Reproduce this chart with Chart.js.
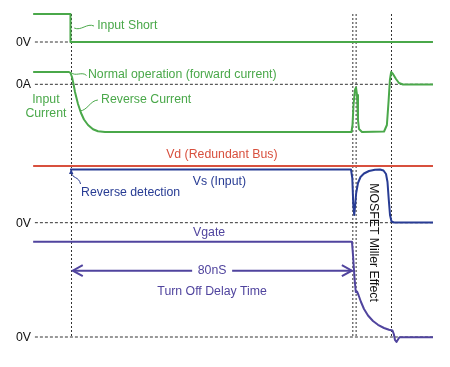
<!DOCTYPE html>
<html>
<head>
<meta charset="utf-8">
<title>Reverse current turn-off timing</title>
<script src="https://cdn.jsdelivr.net/npm/chart.js@4.4.0/dist/chart.umd.min.js"></script>
<style>
  html, body { margin: 0; padding: 0; background: #fff; }
</style>
</head>
<body>
<canvas id="timing-chart" width="450" height="367"></canvas>
<script>
// ================= DATA =================
// time in ns (0 = input short), level in diagram units (0 = top, grows downward)
const inputShortT = [-10.7, -0.15, -0.15, 102.3];
const inputShortY = [14, 14, 42, 42];

const inputCurrentT = [-10.7, -0.57, -0.14, 0.28, 0.71, 1.13, 1.98, 2.83, 3.67, 4.81, 6.22, 7.63, 9.61,
  79.29, 79.58, 79.86, 80.28, 80.57, 80.85, 81.13, 81.41, 82.26,
  88.5, 89.3, 89.8, 90.15, 90.5, 91.03, 91.87, 92.72, 93.85, 102.33];
const inputCurrentY = [72, 72, 73, 77, 84, 92, 104, 113, 119.5, 125, 129.3, 131.3, 132,
  132, 125, 105, 90, 87.5, 95, 120, 129, 132,
  131.5, 125, 100, 80, 72, 74, 79, 83, 84.5, 84.5];

const vdT = [-10.7, 102.33];
const vdY = [166, 166];

const vsT = [-0.28, 79.15, 79.52, 79.8, 80.06, 80.34, 80.62, 81.13, 81.84, 82.83, 84.24, 85.94, 87.35,
  88.34, 89.05, 89.47, 89.84, 90.18, 90.6, 91.31, 102.33];
const vsY = [169.5, 169.5, 178, 205, 215, 205, 193, 183, 177, 173.5, 171, 169.8, 169.5,
  170.5, 174, 182, 200, 215, 221.5, 222.5, 222.5];

const vgateT = [-10.7, 79.43, 79.72, 80.14, 80.51, 80.85, 81.27, 81.98, 82.83, 83.96, 85.37, 86.78,
  88.48, 89.89, 90.88, 91.25, 91.59, 92.01, 92.44, 92.86, 102.33];
const vgateY = [241.7, 241.7, 255, 278, 292, 291.5, 295, 302, 309, 315.5, 321, 324.8,
  328, 329.8, 330.5, 334, 340, 342, 339.5, 337.3, 337.3];

// zero reference levels (0V, 0A, 0V, 0V) and time markers
const zeroLevels = [42, 84.3, 222.7, 337];
const zeroNames = ["0V", "0A", "0V", "0V"];
const zeroSpan = [-10.2, 102.33];
const markerTimes = [0.14, 79.67, 80.6, 90.6];
const markerSpan = [14, 337];
const turnOffDelay = [0.5, 79.4]; // 80nS arrow

// ================= COLORS =================
const GREEN = "#4aa84a";
const RED = "#d8503e";
const NAVY = "#283c94";
const PURPLE = "#50449e";
const DOT = "#333";

const pts = (ts, ys) => ts.map((t, i) => ({ x: t, y: ys[i] }));

function wave(label, ts, ys, color) {
  return {
    label: label,
    data: pts(ts, ys),
    borderColor: color,
    borderWidth: 2,
    pointRadius: 0,
    borderJoinStyle: "round",
    order: 1
  };
}

function dotted(data, dash) {
  return {
    label: "ref",
    data: data,
    borderColor: DOT,
    borderWidth: 1,
    borderDash: dash,
    pointRadius: 0,
    order: 5
  };
}

const datasets = [
  wave("Input Short", inputShortT, inputShortY, GREEN),
  wave("Input Current", inputCurrentT, inputCurrentY, GREEN),
  wave("Vd", vdT, vdY, RED),
  wave("Vs", vsT, vsY, NAVY),
  wave("Vgate", vgateT, vgateY, PURPLE)
];
zeroLevels.forEach(lv => datasets.push(dotted(pts(zeroSpan, [lv, lv]), [3, 2])));
markerTimes.forEach(t => datasets.push(dotted(pts([t, t], markerSpan), [2, 2])));

// ================= LABELS =================
const labels = [
  { text: "Input Short", t: 7.4, y: 26, color: GREEN },
  { text: "Normal operation (forward current)", t: 4.8, y: 75, color: GREEN },
  { text: "Input", t: -7.1, y: 99.5, color: GREEN, align: "center" },
  { text: "Current", t: -7.1, y: 114, color: GREEN, align: "center" },
  { text: "Reverse Current", t: 8.5, y: 99.5, color: GREEN },
  { text: "Vd (Redundant Bus)", t: 26.9, y: 155, color: RED },
  { text: "Vs (Input)", t: 34.4, y: 181.5, color: NAVY },
  { text: "Reverse detection", t: 2.85, y: 193, color: NAVY },
  { text: "Vgate", t: 34.5, y: 233, color: PURPLE },
  { text: "80nS", t: 39.9, y: 271, color: PURPLE, align: "center" },
  { text: "Turn Off Delay Time", t: 39.9, y: 291.5, color: PURPLE, align: "center" }
];

function tilde(ctx, x0, y0, x1, y1, amp) {
  const dx = x1 - x0, dy = y1 - y0;
  const len = Math.hypot(dx, dy);
  const nx = -dy / len * amp, ny = dx / len * amp;
  ctx.beginPath();
  ctx.moveTo(x0, y0);
  ctx.bezierCurveTo(x0 + dx / 3 + nx, y0 + dy / 3 + ny, x0 + 2 * dx / 3 - nx, y0 + 2 * dy / 3 - ny, x1, y1);
  ctx.stroke();
}

function chevron(ctx, x, y, dir) {
  ctx.beginPath();
  ctx.moveTo(x - dir * 10, y - 5.5);
  ctx.lineTo(x, y);
  ctx.lineTo(x - dir * 10, y + 5.5);
  ctx.stroke();
}

const annotationPlugin = {
  id: "annotations",
  afterDatasetsDraw(chart) {
    const { ctx, scales: { x, y } } = chart;
    const X = v => x.getPixelForValue(v);
    const Y = v => y.getPixelForValue(v);
    ctx.save();
    ctx.font = "12.3px 'Liberation Sans', Arial, sans-serif";
    ctx.textBaseline = "middle";

    labels.forEach(l => {
      ctx.fillStyle = l.color;
      ctx.textAlign = l.align || "left";
      ctx.fillText(l.text, X(l.t), Y(l.y));
    });

    // zero level names
    ctx.fillStyle = "#111";
    ctx.textAlign = "right";
    zeroLevels.forEach((lv, i) => ctx.fillText(zeroNames[i], X(-11.3), Y(lv) + 0.5));

    // rotated Miller label
    ctx.save();
    ctx.translate(X(85.4), Y(242.5));
    ctx.rotate(Math.PI / 2);
    ctx.textAlign = "center";
    ctx.fillText("MOSFET Miller Effect", 0, 0);
    ctx.restore();

    // squiggle connectors
    ctx.lineWidth = 1;
    ctx.strokeStyle = GREEN;
    tilde(ctx, X(0.9), 28, X(6.5), 26, 4);
    tilde(ctx, X(0), 72.5, X(4.4), 75.5, 3.5);
    tilde(ctx, X(2.5), 111, X(7.6), 100, 3.5);

    // reverse detection arrow
    ctx.strokeStyle = NAVY;
    ctx.fillStyle = NAVY;
    ctx.beginPath();
    ctx.moveTo(X(0.1), 172);
    ctx.bezierCurveTo(X(0.3), 179, X(2.2), 176, X(2.7), 184);
    ctx.stroke();
    ctx.beginPath();
    ctx.moveTo(X(0.05), 169);
    ctx.lineTo(X(0.05) - 2.2, 174);
    ctx.lineTo(X(0.05) + 2.2, 174);
    ctx.closePath();
    ctx.fill();

    // 80nS turn off delay arrow
    ctx.strokeStyle = PURPLE;
    ctx.lineWidth = 2;
    const ay = Y(270.7);
    const gapL = X(39.9) - 20, gapR = X(39.9) + 20;
    ctx.beginPath();
    ctx.moveTo(X(turnOffDelay[0]), ay);
    ctx.lineTo(gapL, ay);
    ctx.moveTo(gapR, ay);
    ctx.lineTo(X(turnOffDelay[1]), ay);
    ctx.stroke();
    chevron(ctx, X(turnOffDelay[0]), ay, -1);
    chevron(ctx, X(turnOffDelay[1]), ay, 1);
    ctx.restore();
  }
};

// ================= CHART =================
const timingCtx = document.getElementById("timing-chart").getContext("2d");
new Chart(timingCtx, {
  type: "line",
  data: { datasets: datasets },
  options: {
    responsive: false,
    animation: false,
    layout: { padding: 0 },
    scales: {
      x: { type: "linear", min: -20.07, max: 107.14, display: false },
      y: { type: "linear", min: 0, max: 367, reverse: true, display: false }
    },
    plugins: {
      legend: { display: false },
      tooltip: { enabled: false }
    }
  },
  plugins: [annotationPlugin]
});
</script>
</body>
</html>
